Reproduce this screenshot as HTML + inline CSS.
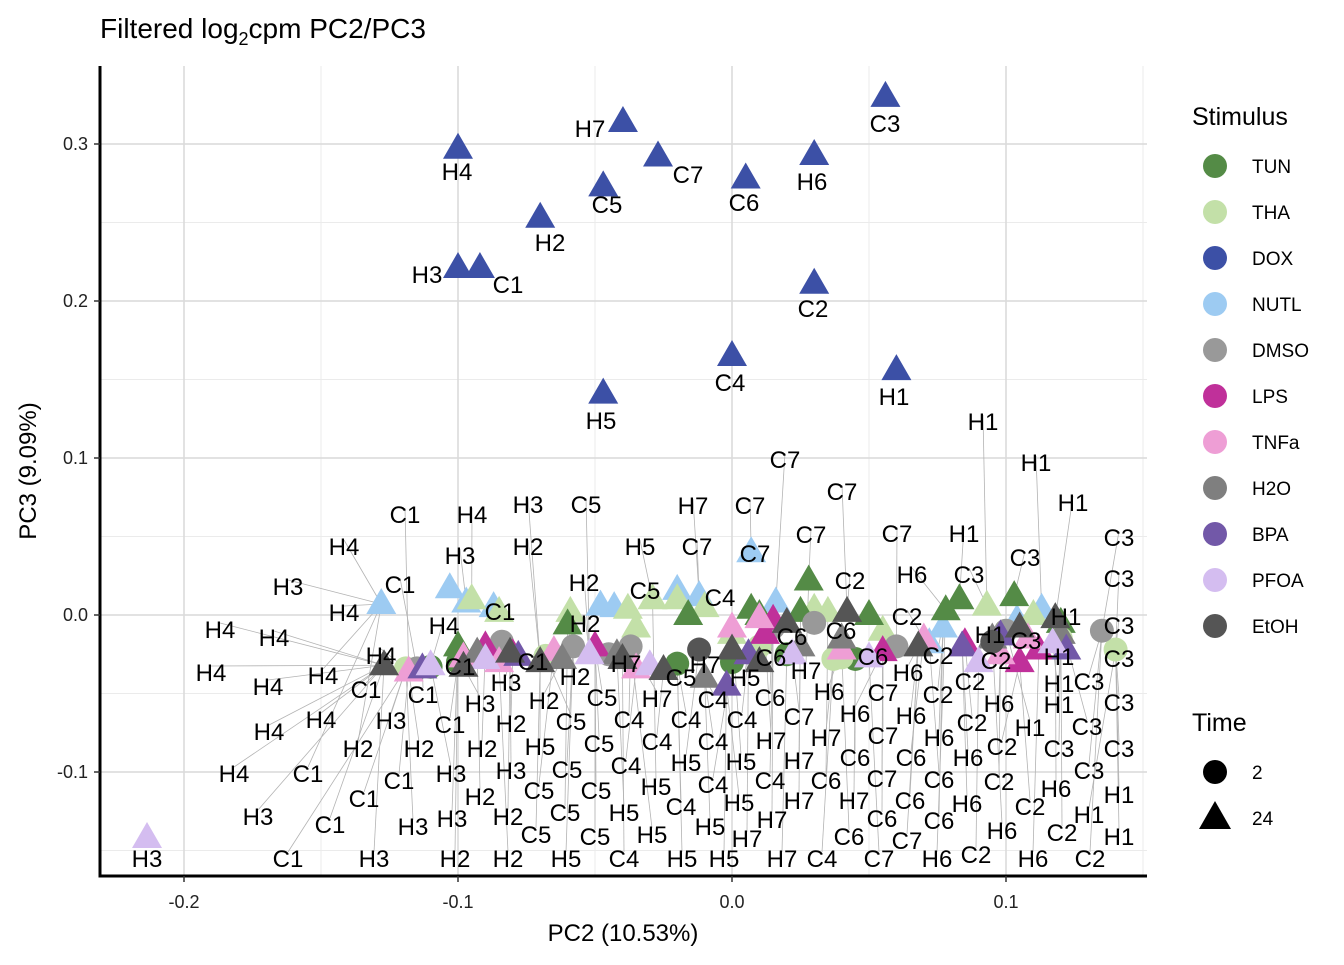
<!DOCTYPE html>
<html><head><meta charset="utf-8">
<style>
body{margin:0;background:#fff;}
svg text{font-family:"Liberation Sans",Arial,sans-serif;}
</style></head>
<body>
<svg id="chart" width="1344" height="960" viewBox="0 0 1344 960" xmlns="http://www.w3.org/2000/svg">
<rect width="1344" height="960" fill="#fff"/>
<text x="100" y="38" font-size="28" fill="#000">Filtered log<tspan font-size="18" dy="7">2</tspan><tspan dy="-7">cpm PC2/PC3</tspan></text>
<g id="grid"></g><g id="lines"></g><g id="marks"></g><g id="labels"></g><g id="axes"></g><g id="legend"></g>
</svg>
<script>
// ---- data ----
const stimuli=["TUN","THA","DOX","NUTL","DMSO","LPS","TNFa","H2O","BPA","PFOA","EtOH"];
const colors=["#548B46","#C3E0A8","#3C50A6","#9DCBF2","#999999","#C0309A","#EE9ED5","#7F7F7F","#7258A8","#D4BDF0","#555555"];
const xTicks=[-0.2,-0.1,0.0,0.1];
const xTickLabels=["-0.2","-0.1","0.0","0.1"];
const yTicks=[-0.1,0.0,0.1,0.2,0.3];
const yTickLabels=["-0.1","0.0","0.1","0.2","0.3"];
// DOX labelled samples (24h)
const doxX=[-0.0398,0.056,-0.1,-0.027,0.030,-0.047,0.005,-0.070,-0.1,-0.092,0.030,0.0,0.060,-0.047];
const doxY=[0.314,0.330,0.297,0.292,0.293,0.273,0.278,0.253,0.221,0.221,0.211,0.165,0.156,0.141];
const doxNames=["H7","C3","H4","C7","H6","C5","C6","H2","H3","C1","C2","C4","H1","H5"];
// DOX label layout (pixel positions of repelled labels)
const doxLabelLayout=[[590,128],[885,123],[457,171],[688,174],[812,181],[607,204],[744,202],[550,242],[427,274],[508,284],[813,308],[730,382],[894,396],[601,420]];
// cluster points: [x, y, stimulusIndex, time]
const clusterPts=[
[-0.128,0.007,3,24],[-0.103,0.017,3,24],[-0.097,0.008,3,24],[-0.087,0.005,3,24],[-0.048,0.006,3,24],[-0.043,0.005,3,24],[-0.020,0.016,3,24],[-0.012,0.012,3,24],[0.016,0.008,3,24],[0.007,0.04,3,24],[0.077,-0.008,3,24],[0.104,-0.003,3,24],[0.113,0.004,3,24],[0.072,-0.018,3,24],
[-0.095,0.010,1,24],[-0.085,0.002,1,24],[-0.059,0.002,1,24],[-0.038,0.004,1,24],[-0.035,-0.008,1,24],[-0.010,0.005,1,24],[0.0,-0.012,1,24],[0.030,0.004,1,24],[0.035,0.002,1,24],[0.055,-0.010,1,24],[0.093,0.006,1,24],[0.110,0.0,1,24],[-0.020,0.010,1,24],[-0.029,0.010,1,24],
[-0.060,-0.006,0,24],[-0.016,0.0,0,24],[0.007,0.004,0,24],[0.028,0.022,0,24],[0.025,0.002,0,24],[0.050,0.0,0,24],[0.083,0.010,0,24],[0.103,0.012,0,24],[0.120,-0.005,0,24],[0.078,0.003,0,24],[-0.1,-0.020,0,24],[0.010,0.0,0,24],
[-0.1,-0.03,0,2],[-0.110,-0.033,0,2],[0.045,-0.028,0,2],[0.0,-0.030,0,2],[0.020,-0.025,0,2],[-0.020,-0.031,0,2],
[-0.068,-0.026,1,2],[0.010,-0.020,1,2],[0.037,-0.028,1,2],[0.100,-0.010,1,2],[0.120,-0.015,1,2],[0.140,-0.022,1,2],[-0.119,-0.034,1,2],[0.040,-0.027,1,2],
[-0.115,-0.034,4,2],[-0.084,-0.017,4,2],[-0.058,-0.020,4,2],[-0.037,-0.020,4,2],[0.015,-0.008,4,2],[0.060,-0.020,4,2],[0.100,-0.010,4,2],[0.135,-0.010,4,2],[0.030,-0.005,4,2],[-0.045,-0.025,4,2],
[-0.090,-0.020,5,24],[-0.080,-0.025,5,24],[-0.050,-0.020,5,24],[0.012,-0.012,5,24],[0.085,-0.018,5,24],[0.112,-0.022,5,24],[0.105,-0.030,5,24],[0.015,-0.003,5,24],[0.055,-0.023,5,24],
[-0.118,-0.036,6,24],[-0.098,-0.027,6,24],[-0.085,-0.030,6,24],[-0.035,-0.034,6,24],[0.010,-0.002,6,24],[0.0,-0.008,6,24],[0.070,-0.015,6,24],[0.040,-0.022,6,24],[0.098,-0.025,6,24],[0.108,-0.015,6,24],[-0.065,-0.023,6,24],
[-0.093,-0.024,7,24],[-0.042,-0.025,7,24],[0.025,-0.020,7,24],[0.040,-0.015,7,24],[0.095,-0.015,7,24],[-0.062,-0.028,7,24],[0.120,-0.012,7,24],[-0.010,-0.040,7,24],
[-0.113,-0.034,8,24],[-0.078,-0.026,8,24],[0.006,-0.025,8,24],[0.084,-0.020,8,24],[0.122,-0.022,8,24],[-0.002,-0.045,8,24],[0.098,-0.013,8,24],
[-0.110,-0.032,9,24],[-0.052,-0.025,9,24],[-0.030,-0.032,9,24],[0.022,-0.025,9,24],[0.050,-0.027,9,24],[0.090,-0.030,9,24],[0.117,-0.018,9,24],[-0.090,-0.028,9,24],[-0.2135,-0.142,9,24],
[-0.127,-0.032,10,24],[-0.098,-0.033,10,24],[-0.070,-0.030,10,24],[-0.081,-0.024,10,24],[-0.040,-0.028,10,24],[0.000,-0.022,10,24],[0.020,-0.005,10,24],[0.042,0.002,10,24],[0.068,-0.020,10,24],[0.105,-0.008,10,24],[0.118,-0.002,10,24],[-0.025,-0.035,10,24],[0.010,-0.030,10,24],
[-0.012,-0.022,10,2],[0.095,-0.017,10,2]
];
// label layout (pixel positions of repelled text labels)
const labelLayout=[["H1",983,421],["H1",1036,462],["H1",1073,502],["C7",785,459],["C7",842,491],["C7",811,534],["C7",897,533],["H1",964,533],["C3",1119,537],["C3",1025,557],["C3",1119,578],["H6",912,574],["C3",969,574],["C2",850,580],["C2",907,616],["H1",1066,616],["C3",1119,625],["C1",405,514],["H4",472,514],["H3",528,504],["C5",586,504],["H7",693,505],["C7",750,505],["H4",344,546],["H3",460,555],["H2",528,546],["H5",640,546],["C7",697,546],["C7",755,553],["H3",288,586],["C1",400,584],["H2",584,582],["C5",645,590],["C4",720,597],["H4",344,612],["C1",500,611],["H4",444,625],["H2",585,623],["H4",220,629],["H4",274,637],["C6",792,636],["C6",841,630],["H1",990,634],["C3",1026,640],["H1",1059,656],["C3",1119,658],["H4",381,655],["C1",460,666],["C1",533,661],["H7",626,663],["H7",705,664],["C6",771,657],["H7",806,670],["C6",873,656],["C2",938,655],["H4",211,672],["H4",323,675],["C1",366,689],["H3",506,682],["H2",575,676],["C5",681,677],["H5",745,677],["H6",908,672],["C2",996,660],["H4",268,686],["C1",423,694],["H1",1059,683],["C3",1089,681],["H3",480,703],["H2",544,700],["C5",602,697],["H7",657,698],["C4",713,699],["C6",770,697],["H6",829,691],["C7",883,692],["C2",938,694],["C2",970,681],["H6",999,703],["H1",1059,704],["C3",1119,702],["H4",269,731],["H4",321,719],["H3",391,720],["C1",450,724],["H2",511,723],["C5",571,721],["C4",629,719],["C4",686,719],["C4",742,719],["C7",799,716],["H6",855,713],["H6",911,715],["C2",972,722],["H1",1030,727],["C3",1087,726],["H2",358,748],["H2",419,748],["H2",482,748],["H5",540,746],["C5",599,743],["C4",657,741],["C4",713,741],["H7",771,740],["H7",826,737],["C7",883,735],["H6",939,737],["C2",1002,746],["C3",1059,748],["C3",1119,748],["H4",234,773],["C1",308,773],["C1",399,780],["H3",451,773],["H3",511,770],["C5",567,769],["C4",626,765],["H5",686,762],["H5",741,761],["H7",799,760],["C6",855,757],["C6",911,757],["H6",968,757],["C1",364,798],["H2",480,796],["C5",539,790],["C5",596,790],["H5",656,786],["C4",713,784],["C4",770,780],["C6",826,780],["C7",882,778],["C6",939,779],["C2",999,781],["H6",1056,788],["C3",1089,770],["H1",1119,794],["H3",258,816],["C1",330,824],["H3",413,826],["H3",452,818],["H2",508,816],["C5",565,812],["H5",624,812],["C4",681,806],["H5",739,802],["H7",799,800],["H7",854,800],["C6",910,800],["H6",967,803],["C2",1030,806],["H1",1089,814],["C5",536,834],["C5",595,836],["H5",652,834],["H5",710,826],["H7",747,838],["H7",772,819],["C6",849,836],["C6",882,818],["C7",907,840],["C6",939,820],["H6",1002,830],["C2",1062,832],["H1",1119,836],["H3",147,858],["C1",288,858],["H3",374,858],["H2",455,858],["H2",508,858],["H5",566,858],["C4",624,858],["H5",682,858],["H5",724,858],["H7",782,858],["C4",822,858],["C7",879,858],["H6",937,858],["C2",976,854],["H6",1033,858],["C2",1090,858]];
// ---- scales ----
const L=100,R=1147,T=66,B=876;
const sx=v=>732+v*2740, sy=v=>615-v*1570;
const NS="http://www.w3.org/2000/svg";
function mk(tag,attrs,parent,txt){const e=document.createElementNS(NS,tag);for(const k in attrs)e.setAttribute(k,attrs[k]);if(txt!==undefined)e.textContent=txt;parent.appendChild(e);return e;}
const G=id=>document.getElementById(id);
// grid
[-0.15,-0.05,0.05,0.15].forEach(v=>{if(sx(v)<R){const l=mk("line",{x1:sx(v),x2:sx(v),y1:T,y2:B,stroke:"#ebebeb","stroke-width":1},G("grid"));

}});
[-0.15,-0.05,0.05,0.15,0.25].forEach(v=>{const l=mk("line",{x1:L,x2:R,y1:sy(v),y2:sy(v),stroke:"#ebebeb","stroke-width":1},G("grid"));

});
xTicks.forEach(v=>{const l=mk("line",{x1:sx(v),x2:sx(v),y1:T,y2:B,stroke:"#d9d9d9","stroke-width":1.5},G("grid"));

});
yTicks.forEach(v=>{const l=mk("line",{x1:L,x2:R,y1:sy(v),y2:sy(v),stroke:"#d9d9d9","stroke-width":1.5},G("grid"));

});
// marks
function drawMark(x,y,c,t,name){
  let e;
  if(t===2){e=mk("circle",{cx:x,cy:y,r:12,fill:c},G("marks"));}
  else{e=mk("polygon",{points:`${x},${y-16} ${x-15},${y+10} ${x+15},${y+10}`,fill:c},G("marks"));}
  
  
  return e;
}
const allPx=[];
clusterPts.forEach(p=>{const x=sx(p[0]),y=sy(p[1]);if(p[1]>-0.1)allPx.push([x,y]);drawMark(x,y,colors[p[2]],p[3],"point-"+stimuli[p[2]].toLowerCase());});
doxX.forEach((v,i)=>{const x=sx(v),y=sy(doxY[i]);drawMark(x,y,colors[2],24,"point-dox-"+doxNames[i].toLowerCase());
  const t=mk("text",{x:doxLabelLayout[i][0],y:doxLabelLayout[i][1]+9,"font-size":24,"text-anchor":"middle",fill:"#000"},G("labels"),doxNames[i]);
  
  });
// repelled labels with leader lines
labelLayout.forEach((lb,i)=>{
  const [txt,lx,ly]=lb;
  let best=null,bd=1e9;
  allPx.forEach((p,j)=>{const d=Math.abs(p[0]-lx)+0.3*Math.abs(p[1]-ly)+((j*7+i*13)%40);if(d<bd){bd=d;best=p;}});
  if(ly<850||lx>200){
  if(best&&Math.hypot(best[0]-lx,best[1]-ly)>22){
    const l=mk("line",{x1:lx,y1:ly-6,x2:best[0],y2:best[1],stroke:"#b3b3b3","stroke-width":0.8},G("lines"));
    
    
  }}
  const t=mk("text",{x:lx,y:ly+9,"font-size":24,"text-anchor":"middle",fill:"#000"},G("labels"),txt);
  
  
});
// axes
const ax=G("axes");
let e=mk("line",{x1:L,x2:L,y1:T,y2:B+1.5,stroke:"#000","stroke-width":3},ax);
e=mk("line",{x1:L-1.5,x2:R,y1:B,y2:B,stroke:"#000","stroke-width":3},ax);
xTicks.forEach((v,i)=>{mk("line",{x1:sx(v),x2:sx(v),y1:B,y2:B+6,stroke:"#333","stroke-width":1.5},ax);
  const t=mk("text",{x:sx(v),y:B+32,"font-size":18,"text-anchor":"middle",fill:"#222"},ax,xTickLabels[i]);
  
  });
yTicks.forEach((v,i)=>{mk("line",{x1:L-6,x2:L,y1:sy(v),y2:sy(v),stroke:"#333","stroke-width":1.5},ax);
  const t=mk("text",{x:L-12,y:sy(v)+6,"font-size":18,"text-anchor":"end",fill:"#222"},ax,yTickLabels[i]);
  
  });
e=mk("text",{x:623,y:941,"font-size":24,"text-anchor":"middle",fill:"#000"},ax,"PC2 (10.53%)");
e=mk("text",{x:0,y:0,"font-size":24,"text-anchor":"middle",fill:"#000",transform:"translate(36,471) rotate(-90)"},ax,"PC3 (9.09%)");
// legend
const lg=G("legend");
e=mk("text",{x:1192,y:125,"font-size":25,fill:"#000"},lg,"Stimulus");
stimuli.forEach((s,i)=>{const y=166+i*46;
  const c=mk("circle",{cx:1215,cy:y,r:12,fill:colors[i]},lg);
  
  
  const t=mk("text",{x:1252,y:y+7,"font-size":19,fill:"#000"},lg,s);
  
  });
e=mk("text",{x:1192,y:731,"font-size":25,fill:"#000"},lg,"Time");
e=mk("circle",{cx:1215,cy:772,r:12,fill:"#000"},lg);
e=mk("text",{x:1252,y:779,"font-size":19,fill:"#000"},lg,"2");
e=mk("polygon",{points:"1215,801 1199,829 1231,829",fill:"#000"},lg);
e=mk("text",{x:1252,y:825,"font-size":19,fill:"#000"},lg,"24");
</script>
</body></html>
